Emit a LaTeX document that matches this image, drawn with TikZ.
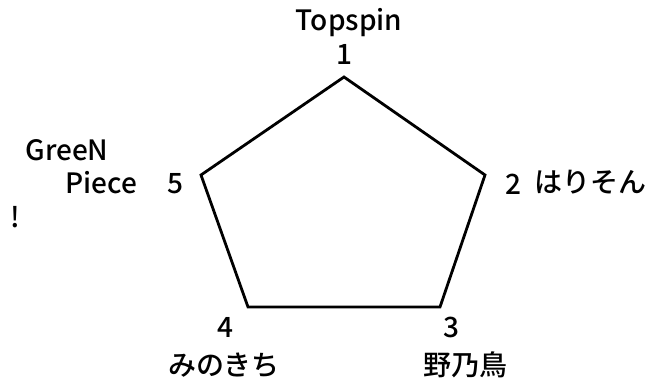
\documentclass[tikz,border=0pt]{standalone}
\usepackage{fontspec}
\setmainfont{Noto Sans CJK JP}[BoldFont={Noto Sans CJK JP Medium}]
\usetikzlibrary{positioning}

\begin{document}
\begin{tikzpicture}
[x=1pt,y=1pt,every node/.style={inner sep=0pt,anchor=base,font=\fontsize{28}{32}\selectfont\bfseries}]
\useasboundingbox (0,0) rectangle (645,383);

\coordinate (v1) at (344,306);
\coordinate (v2) at (485,208);
\coordinate (v3) at (440,76);
\coordinate (v4) at (248,76);
\coordinate (v5) at (201,208);

\node (t1) at (349,352) {Topspin};
\node (n1) at (344,318) {1};

\node (n2) at (513,188) {2};
\node (t2) at (590,190) {はりそん};

\node (n3) at (451,46) {3};
\node (t3) at (465,8) {野乃鳥};

\node (n4) at (225,46) {4};
\node (t4) at (224,8) {みのきち};

\node (n5) at (175,189) {5};
\node (t5a) at (67,222) {GreeN};
\node (t5b) at (101,189) {Piece};
\node (t5c) at (15,155) {!};

\draw[line width=2.8pt] (v1) -- (v2) -- (v3) -- (v4) -- (v5) -- cycle;

\end{tikzpicture}
\end{document}
